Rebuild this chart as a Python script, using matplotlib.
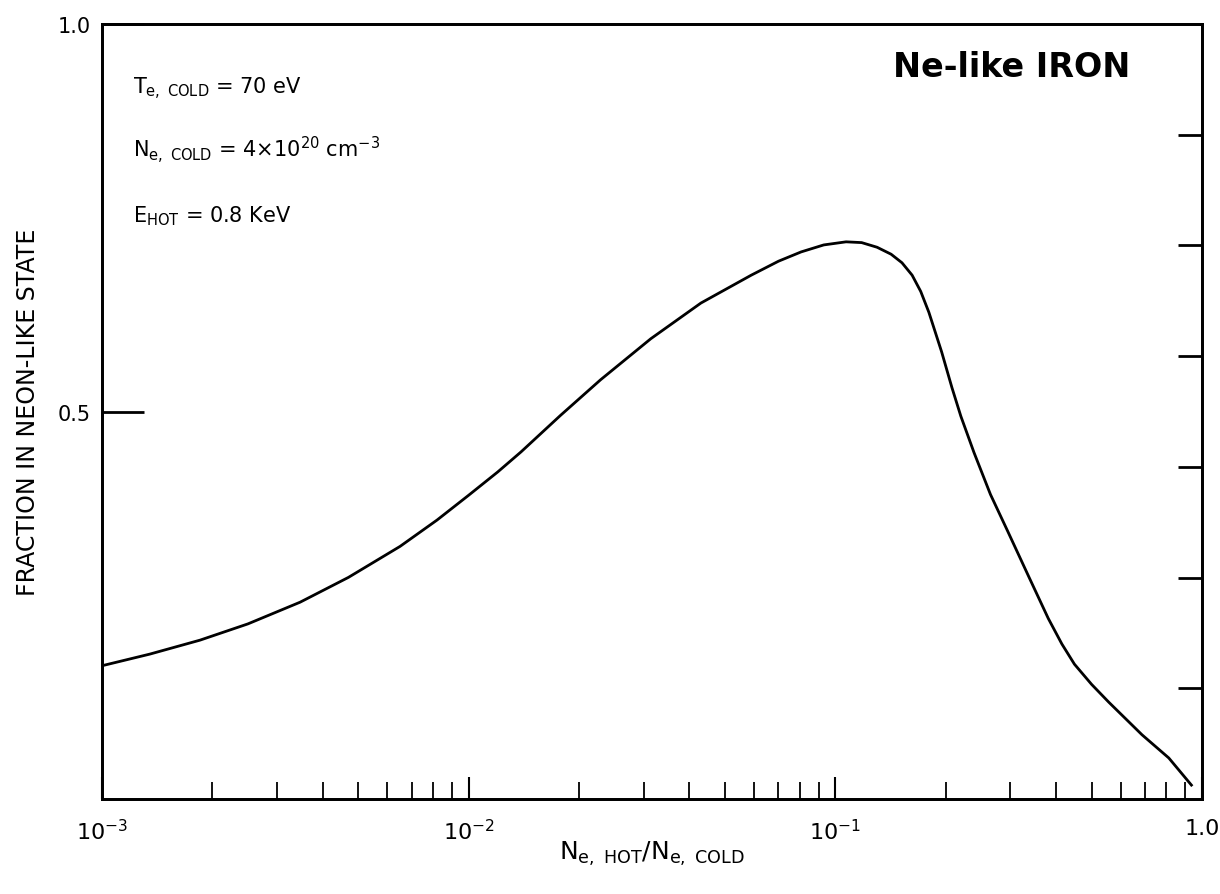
import matplotlib
matplotlib.use("Agg")
import matplotlib.pyplot as plt
import numpy as np

# curve: N_e,hot / N_e,cold  vs  fraction in Ne-like state
ratio = [1.0e-3, 1.35e-3, 1.85e-3, 2.5e-3, 3.47e-3, 4.7e-3, 6.5e-3, 8.2e-3,
         1.0e-2, 1.2e-2, 1.39e-2, 1.78e-2, 2.29e-2, 3.14e-2, 4.3e-2, 5.9e-2,
         7.0e-2, 8.07e-2, 9.3e-2, 0.107, 0.118, 0.130, 0.142, 0.152, 0.162,
         0.171, 0.180, 0.195, 0.208, 0.220, 0.239, 0.265, 0.295, 0.337, 0.381,
         0.415, 0.449, 0.50, 0.557, 0.686, 0.812, 0.936]
fraction = [0.172, 0.187, 0.205, 0.226, 0.254, 0.286, 0.326, 0.360,
            0.392, 0.422, 0.448, 0.495, 0.541, 0.594, 0.640, 0.676,
            0.694, 0.706, 0.715, 0.719, 0.718, 0.712, 0.703, 0.692, 0.676,
            0.655, 0.628, 0.577, 0.531, 0.494, 0.447, 0.393, 0.346, 0.287, 0.233,
            0.200, 0.174, 0.148, 0.125, 0.083, 0.053, 0.018]

x_ticks = [1e-3, 1e-2, 1e-1, 1.0]
x_ticklabels = [r"10$^{-3}$", r"10$^{-2}$", r"10$^{-1}$", "1.0"]
y_ticks = [0.5, 1.0]
y_ticklabels = ["0.5", "1.0"]
right_ticks = [1/7, 2/7, 3/7, 4/7, 5/7, 6/7]

fig = plt.figure(figsize=(12.2, 8.95), dpi=100)
ax = fig.add_axes([0.0836, 0.1061, 0.9016, 0.8659])

ax.plot(ratio, fraction, color="black", linewidth=2.0)

ax.set_xscale("log")
ax.set_xlim(1e-3, 1.0)
ax.set_ylim(0.0, 1.0)

for s in ax.spines.values():
    s.set_linewidth(2.0)

ax.set_xticks(x_ticks)
ax.set_xticklabels(x_ticklabels, fontsize=16)
ax.xaxis.set_minor_locator(matplotlib.ticker.LogLocator(base=10, subs=np.arange(2, 10)))
ax.xaxis.set_minor_formatter(matplotlib.ticker.NullFormatter())
ax.tick_params(axis="x", which="major", direction="in", length=16, width=1.5, pad=14)
ax.tick_params(axis="x", which="minor", direction="in", length=12, width=1.3)

ax.set_yticks(y_ticks)
ax.set_yticklabels(y_ticklabels, fontsize=15)
ax.tick_params(axis="y", which="major", direction="in", length=30, width=2.0, pad=8)
ax.yaxis.set_minor_locator(matplotlib.ticker.NullLocator())

# unlabeled ticks on the right side
ax2 = ax.twinx()
ax2.set_ylim(ax.get_ylim())
ax2.set_yticks(right_ticks)
ax2.set_yticklabels([])
ax2.tick_params(axis="y", direction="in", length=17, width=2.0)
for s in ax2.spines.values():
    s.set_linewidth(2.0)

ax.set_xlabel(r"N$_{\mathrm{e,\ HOT}}$/N$_{\mathrm{e,\ COLD}}$", fontsize=18)
ax.xaxis.set_label_coords(0.5, -0.052)
ax.set_ylabel("FRACTION IN NEON-LIKE STATE", fontsize=17)
ax.yaxis.set_label_coords(-0.056, 0.5)

ax.text(0.028, 0.918, r"T$_{\mathrm{e,\ COLD}}$ = 70 eV", transform=ax.transAxes,
        fontsize=15, va="center")
ax.text(0.028, 0.838, r"N$_{\mathrm{e,\ COLD}}$ = 4$\times$10$^{20}$ cm$^{-3}$",
        transform=ax.transAxes, fontsize=15, va="center")
ax.text(0.028, 0.754, r"E$_{\mathrm{HOT}}$ = 0.8 KeV", transform=ax.transAxes,
        fontsize=15, va="center")
ax.text(0.9345, 0.945, "Ne-like IRON", transform=ax.transAxes, fontsize=24,
        fontweight="bold", ha="right", va="center")

fig.savefig("out.png", dpi=100)
